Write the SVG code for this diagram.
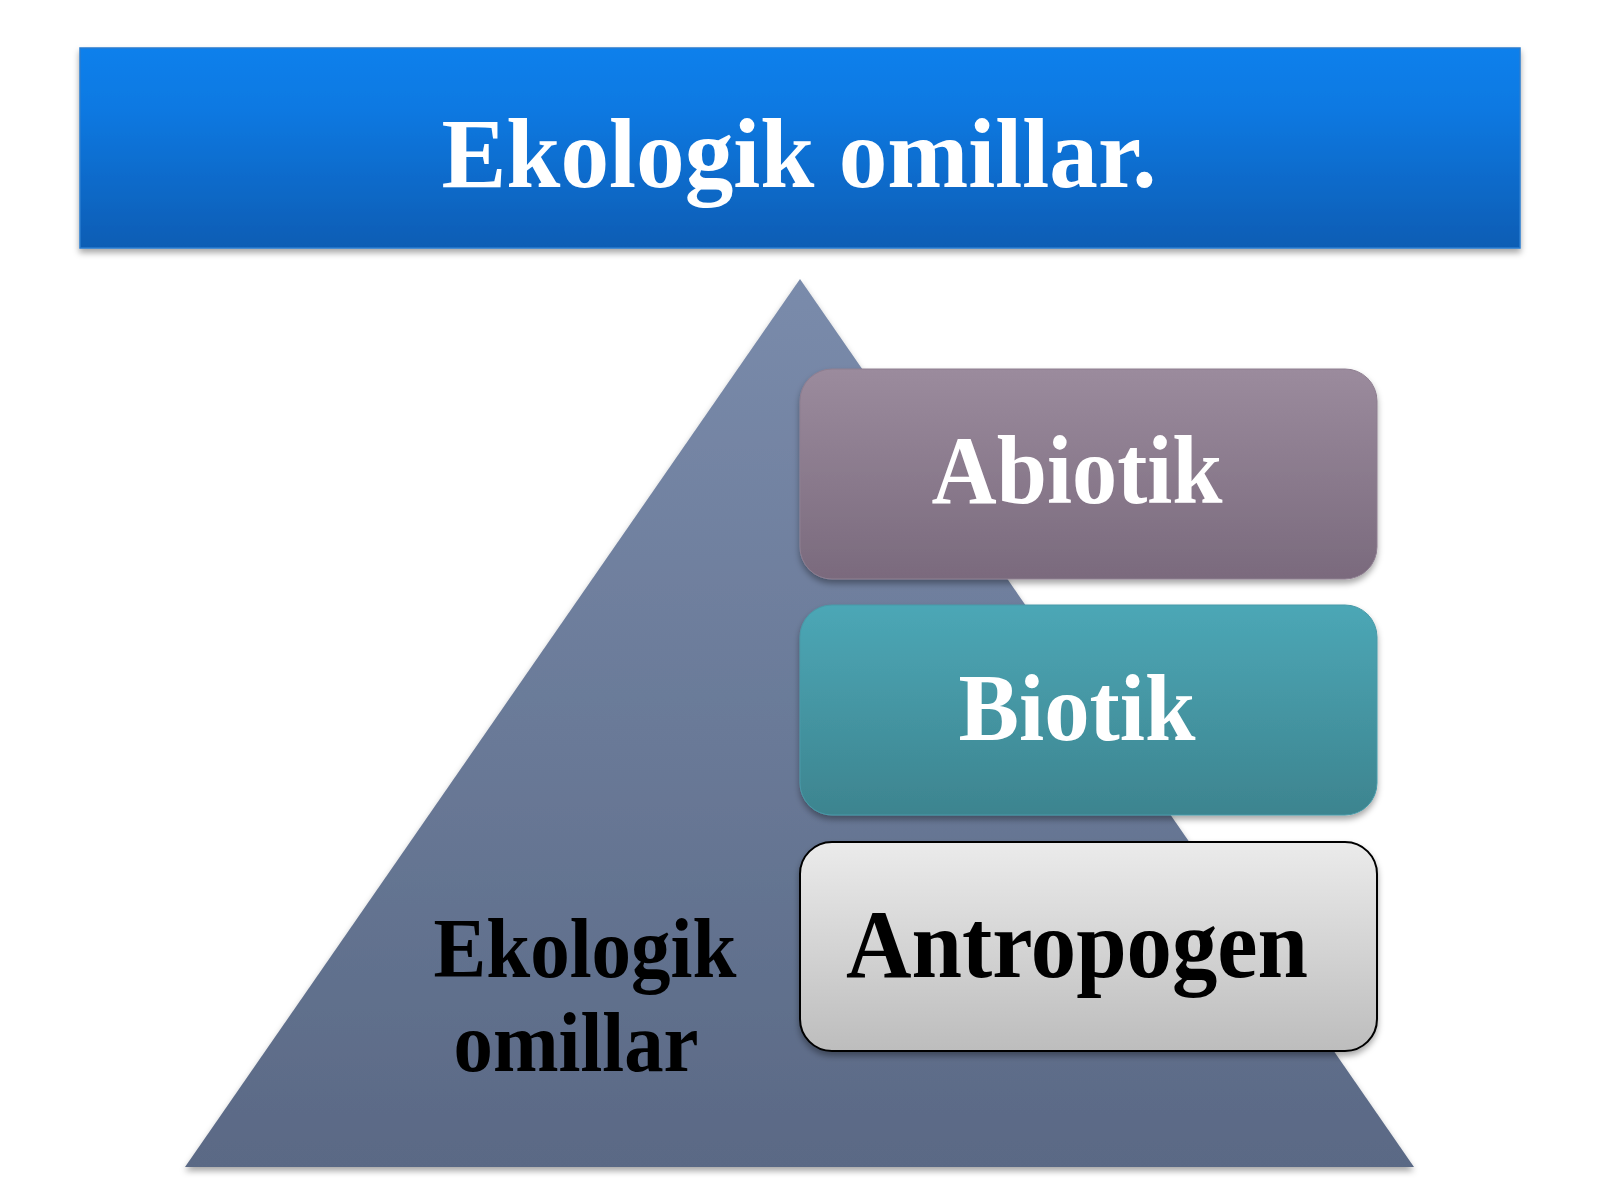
<svg xmlns="http://www.w3.org/2000/svg" width="1600" height="1200" viewBox="0 0 1600 1200">
<defs>
<linearGradient id="gTitle" x1="0" y1="0" x2="0" y2="1"><stop offset="0" stop-color="#0E80EC"/><stop offset="0.3" stop-color="#0C79E2"/><stop offset="1" stop-color="#0A5DB4"/></linearGradient>
<linearGradient id="gTri" x1="0" y1="0" x2="0" y2="1"><stop offset="0" stop-color="#7A8BAB"/><stop offset="1" stop-color="#5A6985"/></linearGradient>
<linearGradient id="gAbi" x1="0" y1="0" x2="0" y2="1"><stop offset="0" stop-color="#9B8B9D"/><stop offset="1" stop-color="#7A6A7D"/></linearGradient>
<linearGradient id="gBio" x1="0" y1="0" x2="0" y2="1"><stop offset="0" stop-color="#4CA7B6"/><stop offset="1" stop-color="#3D848F"/></linearGradient>
<linearGradient id="gAnt" x1="0" y1="0" x2="0" y2="1"><stop offset="0" stop-color="#EBEBEB"/><stop offset="1" stop-color="#BDBDBD"/></linearGradient>
<filter id="sh" x="-5%" y="-5%" width="110%" height="115%"><feDropShadow dx="0" dy="4" stdDeviation="3" flood-color="#000" flood-opacity="0.35"/></filter>
</defs>
<style>
.t{font-family:"Liberation Serif","Times New Roman",serif;font-weight:bold;text-anchor:middle}
.w{fill:#FFFFFF}
.b{fill:#000000}
</style>
<rect width="1600" height="1200" fill="#FFFFFF"/>
<g id="title">
<rect x="80" y="48" width="1440" height="200" fill="url(#gTitle)" stroke="#2A7CD0" stroke-width="1.5" filter="url(#sh)"/>
<text class="t w" x="799" y="187" font-size="100" textLength="715" lengthAdjust="spacingAndGlyphs">Ekologik omillar.</text>
</g>
<g id="pyramid">
<polygon points="800,279 1414,1167 185,1167" fill="url(#gTri)" filter="url(#sh)"/>
<text class="t b" x="585" y="977" font-size="84" textLength="303" lengthAdjust="spacingAndGlyphs">Ekologik</text>
<text class="t b" x="576" y="1071" font-size="84" textLength="245" lengthAdjust="spacingAndGlyphs">omillar</text>
</g>
<g id="abiotik">
<rect x="800" y="369" width="577" height="210" rx="32" fill="url(#gAbi)" stroke="#8E7E90" stroke-width="1" filter="url(#sh)"/>
<text class="t w" x="1077" y="503" font-size="97" textLength="291" lengthAdjust="spacingAndGlyphs">Abiotik</text>
</g>
<g id="biotik">
<rect x="800" y="605" width="577" height="210" rx="32" fill="url(#gBio)" stroke="#489AA8" stroke-width="1" filter="url(#sh)"/>
<text class="t w" x="1077" y="740" font-size="96" textLength="237" lengthAdjust="spacingAndGlyphs">Biotik</text>
</g>
<g id="antropogen">
<rect x="800" y="842" width="577" height="209" rx="32" fill="url(#gAnt)" stroke="#000000" stroke-width="2" filter="url(#sh)"/>
<text class="t b" x="1077" y="977" font-size="97" textLength="462" lengthAdjust="spacingAndGlyphs">Antropogen</text>
</g>
<g id="connectors"/>
</svg>
